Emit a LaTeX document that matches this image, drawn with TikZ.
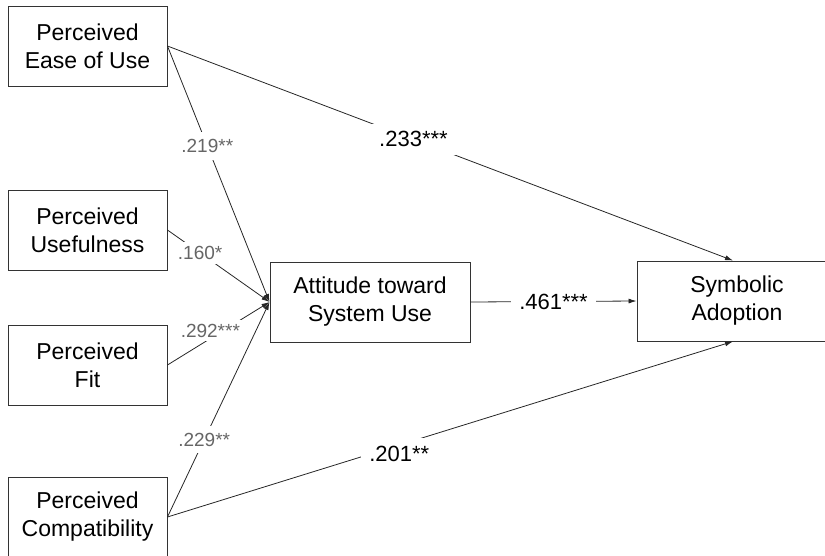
\documentclass[tikz,border=0pt]{standalone}
\usepackage{fontspec}
\setmainfont{Liberation Sans}
\usetikzlibrary{arrows.meta}

\begin{document}
\begin{tikzpicture}[x=1pt, y=-1pt,
	construct/.style={draw=black!80, line width=0.9pt, minimum width=159pt, minimum height=80pt, align=center, inner sep=0pt, font=\fontsize{23}{28}\selectfont},
	wide/.style={construct, minimum width=200pt},
	path/.style={draw=black!85, line width=0.8pt, -{Latex[length=8pt, width=5pt]}},
	coef/.style={fill=white, inner sep=8pt, font=\fontsize{22}{24}\selectfont},
	smallcoef/.style={fill=white, inner sep=7pt, text=black!60, font=\fontsize{19}{22}\selectfont}]

	\useasboundingbox (0, 0) rectangle (825, 555);

	\node[construct] (peou) at (87.5, 46) {Perceived\\Ease of Use};
	\node[construct] (pu) at (87.5, 230) {Perceived\\Usefulness};
	\node[construct] (pf) at (87.5, 365) {Perceived\\Fit};
	\node[construct] (pc) at (87.5, 517) {Perceived\\Compatibility};

	\node[wide] (att) at (370, 302) {Attitude toward\\System Use};
	\node[wide] (sa) at (737, 301) {Symbolic\\Adoption};

	\draw[path] (peou.east) -- node[smallcoef, pos=0.39] {.219**} (att.west);
	\draw[path] (pu.east) -- node[smallcoef, pos=0.32, inner sep=4pt] {.160*} (att.west);
	\draw[path] (pf.east) -- node[smallcoef, pos=0.42, yshift=8pt, inner sep=4pt] {.292***} (att.west);
	\draw[path] (pc.east) -- node[smallcoef, pos=0.36] {.229**} (att.west);

	\draw[path] (peou.east) -- node[coef, pos=0.435] {.233***} ([xshift=-4pt]sa.north);
	\draw[path] (att.east) -- node[coef, pos=0.5] {.461***} (sa.west);
	\draw[path] (pc.east) -- node[coef, pos=0.41, yshift=-9pt] {.201**} ([xshift=-4pt]sa.south);

\end{tikzpicture}
\end{document}
